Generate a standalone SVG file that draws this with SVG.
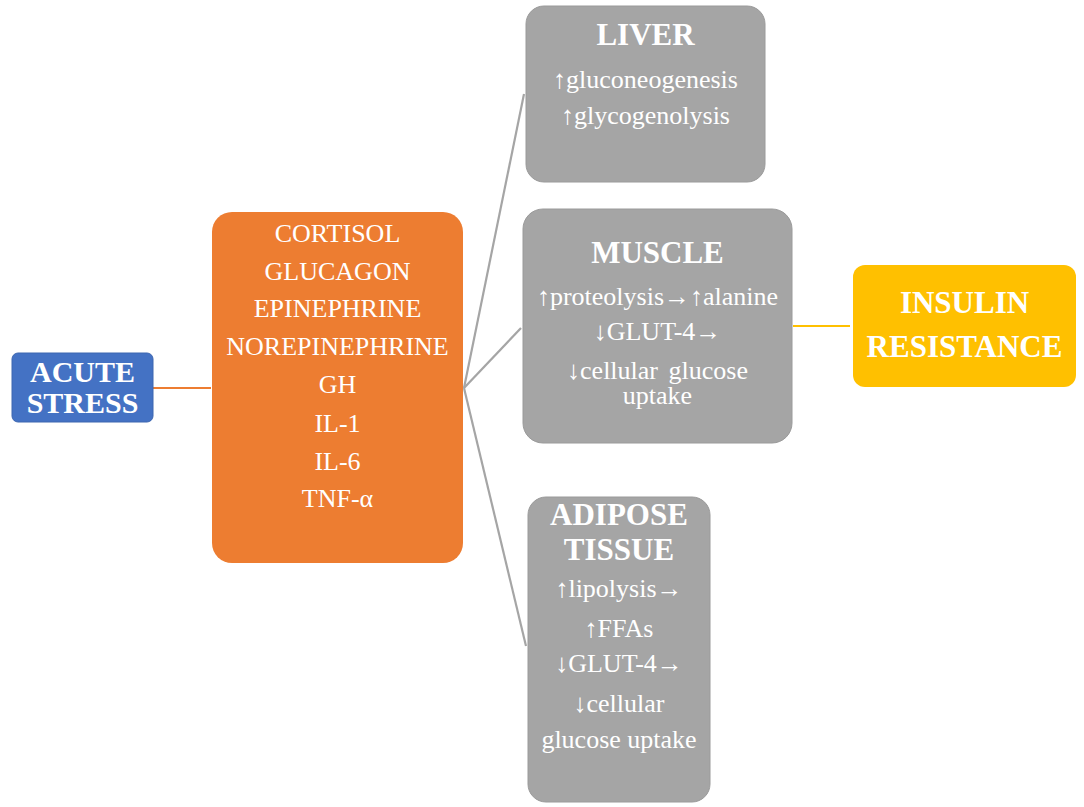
<svg xmlns="http://www.w3.org/2000/svg" width="1084" height="807" viewBox="0 0 1084 807">
<style>
text{font-family:"Liberation Serif","Times New Roman",serif;fill:#fff;text-anchor:middle}
.t{font-weight:bold;font-size:31px}
.b{font-size:26px}
.g{fill:#A5A5A5;stroke:#9a9a9a;stroke-width:1}
.c{fill:none;stroke-width:2.2}
</style>
<rect width="1084" height="807" fill="#fff"/>
<g id="connectors">
<line class="c" x1="153" y1="388" x2="211" y2="388" stroke="#ED7D31"/>
<line class="c" x1="464" y1="388" x2="524" y2="94" stroke="#A5A5A5"/>
<line class="c" x1="464" y1="388" x2="521" y2="328" stroke="#A5A5A5"/>
<line class="c" x1="464" y1="388" x2="526" y2="646" stroke="#A5A5A5"/>
<line class="c" x1="793" y1="326" x2="850" y2="326" stroke="#FFC000"/>
</g>
<g id="acute-stress">
<rect x="12" y="353" width="141" height="69" rx="6" fill="#4472C4" stroke="#3d66b0"/>
<text class="t" x="82.5" y="382" style="font-size:30px">ACUTE</text>
<text class="t" x="82.5" y="413" style="font-size:30px">STRESS</text>
</g>
<g id="hormones">
<rect x="212" y="212" width="251" height="351" rx="20" fill="#ED7D31"/>
<text class="b" x="337.5" y="242">CORTISOL</text>
<text class="b" x="337.5" y="280">GLUCAGON</text>
<text class="b" x="337.5" y="317">EPINEPHRINE</text>
<text class="b" x="337.5" y="355">NOREPINEPHRINE</text>
<text class="b" x="337.5" y="393">GH</text>
<text class="b" x="337.5" y="432">IL-1</text>
<text class="b" x="337.5" y="470">IL-6</text>
<text class="b" x="337.5" y="507">TNF-α</text>
</g>
<g id="liver">
<rect class="g" x="526" y="6" width="239" height="176" rx="18"/>
<text class="t" x="645.5" y="45">LIVER</text>
<text class="b" x="645.5" y="88">↑gluconeogenesis</text>
<text class="b" x="645.5" y="124">↑glycogenolysis</text>
</g>
<g id="muscle">
<rect class="g" x="523" y="209" width="269" height="234" rx="20"/>
<text class="t" x="657.5" y="263">MUSCLE</text>
<text class="b" x="657.5" y="305">↑proteolysis→↑alanine</text>
<text class="b" x="657.5" y="340">↓GLUT-4→</text>
<text class="b" x="657.5" y="379" style="word-spacing:4px">↓cellular glucose</text>
<text class="b" x="657.5" y="404">uptake</text>
</g>
<g id="adipose">
<rect class="g" x="528" y="497" width="182" height="305" rx="18"/>
<text class="t" x="619" y="525">ADIPOSE</text>
<text class="t" x="619" y="560">TISSUE</text>
<text class="b" x="619" y="597">↑lipolysis→</text>
<text class="b" x="619" y="637">↑FFAs</text>
<text class="b" x="619" y="672">↓GLUT-4→</text>
<text class="b" x="619" y="712">↓cellular</text>
<text class="b" x="619" y="748">glucose uptake</text>
</g>
<g id="insulin-resistance">
<rect x="853" y="265" width="223" height="122" rx="12" fill="#FFC000"/>
<text class="t" x="964.5" y="313">INSULIN</text>
<text class="t" x="964.5" y="357">RESISTANCE</text>
</g>
</svg>
